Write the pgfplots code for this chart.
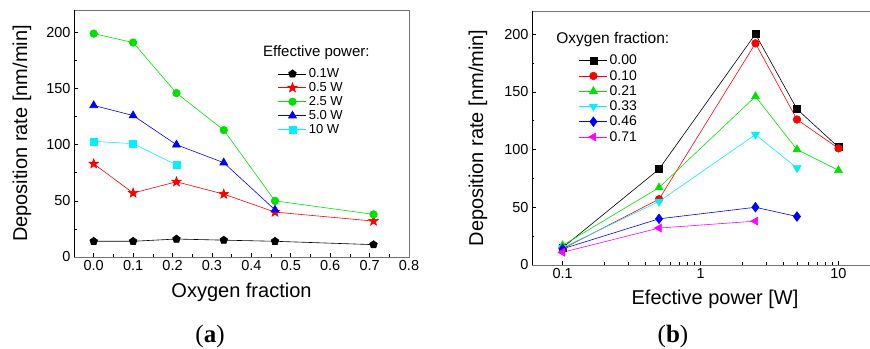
\documentclass[border=0pt]{standalone}
\usepackage{fontspec}
\setmainfont{Liberation Sans}
\newfontfamily\capfont{Liberation Serif}
\usepackage{pgfplots}
\pgfplotsset{compat=1.18}
\usetikzlibrary{plotmarks}
\definecolor{cgreen}{RGB}{0,225,0}
\definecolor{ccyan}{RGB}{0,240,255}
\definecolor{cmag}{RGB}{255,0,255}
\definecolor{cblue}{RGB}{0,0,255}
\definecolor{cred}{RGB}{255,0,0}

\pgfdeclareplotmark{fstar}{%
  \pgfpathmoveto{\pgfpointpolar{90}{\pgfplotmarksize}}%
  \pgfpathlineto{\pgfpointpolar{126}{0.42\pgfplotmarksize}}%
  \pgfpathlineto{\pgfpointpolar{162}{\pgfplotmarksize}}%
  \pgfpathlineto{\pgfpointpolar{198}{0.42\pgfplotmarksize}}%
  \pgfpathlineto{\pgfpointpolar{234}{\pgfplotmarksize}}%
  \pgfpathlineto{\pgfpointpolar{270}{0.42\pgfplotmarksize}}%
  \pgfpathlineto{\pgfpointpolar{306}{\pgfplotmarksize}}%
  \pgfpathlineto{\pgfpointpolar{342}{0.42\pgfplotmarksize}}%
  \pgfpathlineto{\pgfpointpolar{18}{\pgfplotmarksize}}%
  \pgfpathlineto{\pgfpointpolar{54}{0.42\pgfplotmarksize}}%
  \pgfpathclose
  \pgfusepathqfillstroke
}

\pgfplotsset{
  myaxis/.style={
    scale only axis,
    anchor=south west,
    ymin=0, ymax=220,
    ytick={0,50,...,200},
    minor y tick num=1,
    tick pos=left,
    tick align=inside,
    major tick length=4bp, minor tick length=2.5bp,
    axis line style={black!55},
    tick style={black, line width=0.6pt},
    /pgf/number format/assume math mode=true,
    tick label style={font=\fontsize{14.5bp}{16bp}\selectfont},
    every axis plot/.append style={line width=0.6pt},
    legend cell align=left,
    legend image code/.code={\draw[mark repeat=2,mark phase=2] plot coordinates {(0bp,0bp)(14bp,0bp)(28bp,0bp)};},
  }
}

\begin{document}
\begin{tikzpicture}
\useasboundingbox (0,0) rectangle (870bp,349bp);

% ---------------- panel (a) ----------------
\begin{axis}[myaxis,
  at={(74bp,92bp)}, width=335bp, height=247bp,
  xmin=-0.05, xmax=0.8,
  xtick={0,0.1,...,0.8},
  minor x tick num=1,
  xticklabel style={/pgf/number format/.cd, fixed, fixed zerofill, precision=1},
  xlabel={Oxygen fraction},
  ylabel={Deposition rate [nm/min]},
  xlabel style={at={([yshift=-35bp]rel axis cs:0.5,0)}, anchor=center, font=\fontsize{20bp}{24bp}\selectfont},
  ylabel style={at={([xshift=-52bp]rel axis cs:0,0.5)}, anchor=center, font=\fontsize{20bp}{24bp}\selectfont},
  legend style={draw=none, fill=none, at={(rel axis cs:0.6,0.78)}, anchor=north west,
    font=\fontsize{13bp}{14bp}\selectfont, row sep=-0.6bp},
]
\addplot[black, mark=pentagon*, mark size=4bp, mark options={solid}] coordinates {(0,14)(0.1,14)(0.21,16)(0.33,15)(0.46,14)(0.71,11)};
\addlegendentry{0.1W}
\addplot[cred, mark=fstar, mark size=5bp, mark options={solid, fill=cred}] coordinates {(0,83)(0.1,57)(0.21,67)(0.33,56)(0.46,40)(0.71,32)};
\addlegendentry{0.5 W}
\addplot[cgreen, mark=*, mark size=3.8bp, mark options={solid, fill=cgreen}] coordinates {(0,199)(0.1,191)(0.21,146)(0.33,113)(0.46,50)(0.71,38)};
\addlegendentry{2.5 W}
\addplot[cblue, mark=triangle*, mark size=4.6bp, mark options={solid, fill=cblue}] coordinates {(0,135)(0.1,126)(0.21,100)(0.33,84)(0.46,42)};
\addlegendentry{5.0 W}
\addplot[ccyan, mark=square*, mark size=3.5bp, mark options={solid, fill=ccyan}] coordinates {(0,103)(0.1,101)(0.21,82)};
\addlegendentry{10 W}
\node[anchor=west, inner sep=0pt, font=\fontsize{15bp}{17bp}\selectfont] at (rel axis cs:0.564,0.826) {Effective power:};
\draw[black, line width=0.8pt] (rel axis cs:0,1) -- (rel axis cs:0,0) -- (rel axis cs:1,0);
\end{axis}

% ---------------- panel (b) ----------------
\begin{axis}[myaxis,
  at={(532bp,84bp)}, width=366bp, height=254bp,
  xmode=log, xmin=0.06, xmax=27,
  xtick={0.1,1,10}, xticklabels={0.1,1,10},
  xlabel={Efective power [W]},
  ylabel={Deposition rate [nm/min]},
  xlabel style={at={([yshift=-34bp]rel axis cs:0.5,0)}, anchor=center, font=\fontsize{20bp}{24bp}\selectfont},
  ylabel style={at={([xshift=-54bp]rel axis cs:0,0.5)}, anchor=center, font=\fontsize{20bp}{24bp}\selectfont},
  legend style={draw=none, fill=none, at={(rel axis cs:0.12,0.843)}, anchor=north west,
    font=\fontsize{14bp}{15bp}\selectfont, row sep=0bp},
]
\addplot[black, mark=square*, mark size=3.5bp, mark options={solid}] coordinates {(0.1,15)(0.5,83)(2.5,200)(5,135)(10,102)};
\addlegendentry{0.00}
\addplot[cred, mark=*, mark size=3.8bp, mark options={solid, fill=cred}] coordinates {(0.1,14)(0.5,57)(2.5,192)(5,126)(10,101)};
\addlegendentry{0.10}
\addplot[cgreen, mark=triangle*, mark size=4.6bp, mark options={solid, fill=cgreen}] coordinates {(0.1,17)(0.5,67)(2.5,146)(5,100)(10,82)};
\addlegendentry{0.21}
\addplot[ccyan, mark=triangle*, mark size=4.6bp, mark options={solid, fill=ccyan, rotate=180}] coordinates {(0.1,15)(0.5,55)(2.5,113)(5,84)};
\addlegendentry{0.33}
\addplot[cblue, mark=diamond*, mark size=4.8bp, mark options={solid, fill=cblue}] coordinates {(0.1,14)(0.5,40)(2.5,50)(5,42)};
\addlegendentry{0.46}
\addplot[cmag, mark=triangle*, mark size=4.6bp, mark options={solid, fill=cmag, rotate=90}] coordinates {(0.1,11)(0.5,32)(2.5,38)};
\addlegendentry{0.71}
\node[anchor=west, inner sep=0pt, font=\fontsize{15.5bp}{17bp}\selectfont] at (rel axis cs:0.066,0.886) {Oxygen fraction:};
\draw[black, line width=0.8pt] (rel axis cs:0,1) -- (rel axis cs:0,0) -- (rel axis cs:1,0);
\end{axis}

\node[font=\capfont\fontsize{25bp}{28bp}\selectfont] at (210bp,13bp) {(\textbf{a})};
\node[font=\capfont\fontsize{25bp}{28bp}\selectfont] at (673bp,13bp) {(\textbf{b})};
\end{tikzpicture}
\end{document}
